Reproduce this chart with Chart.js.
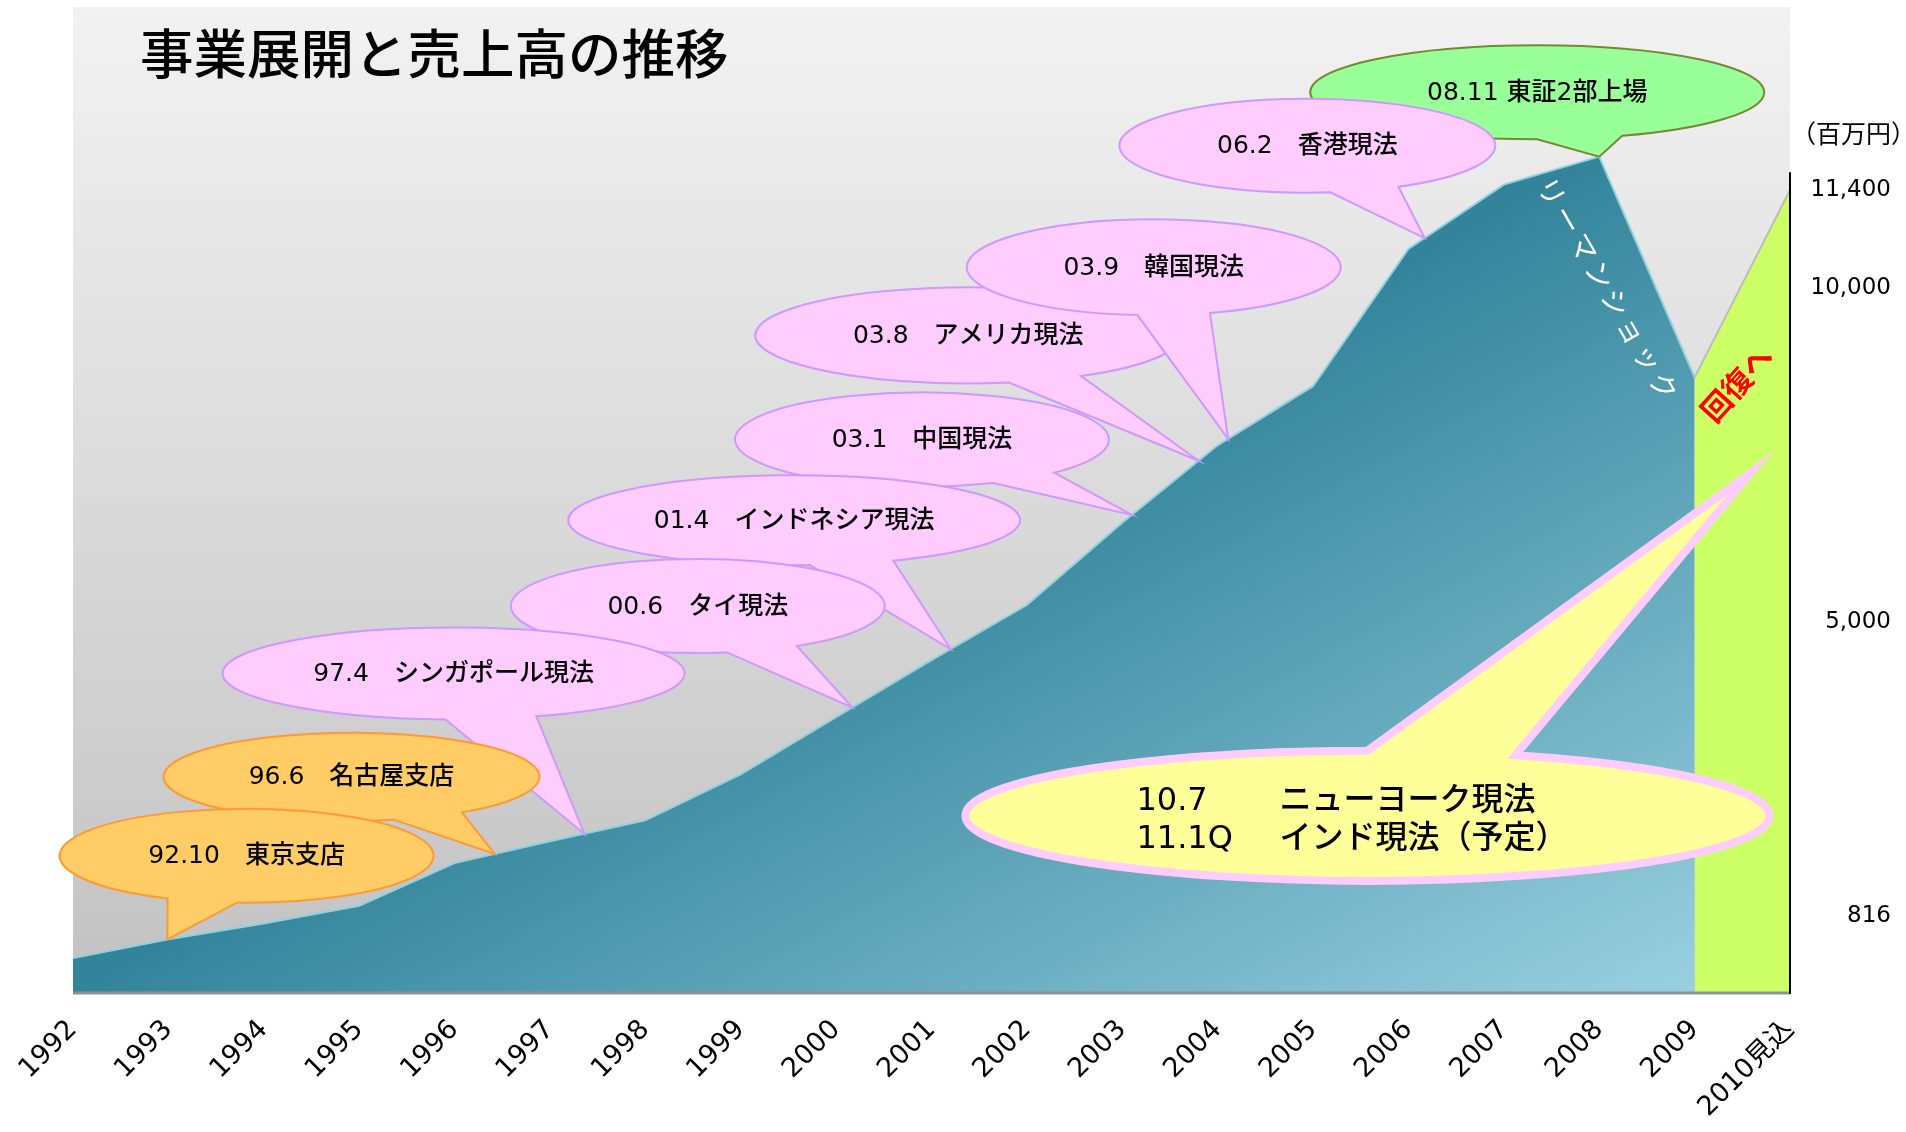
<!DOCTYPE html>
<html lang="ja">
<head>
<meta charset="utf-8">
<title>事業展開と売上高の推移</title>
<script src="https://cdn.jsdelivr.net/npm/chart.js@4.4.1/dist/chart.umd.min.js"></script>
<style>
  html, body { margin: 0; padding: 0; background: #fff; }
  #chart { display: block; }
</style>
</head>
<body>
<canvas id="chart" width="1906" height="1132"></canvas>
<script>
// 売上高（百万円）
const years = ['1992', '1993', '1994', '1995', '1996', '1997', '1998', '1999', '2000',
  '2001', '2002', '2003', '2004', '2005', '2006', '2007', '2008', '2009', '2010見込'];
const sales = [484, 750, 975, 1225, 1832, 2143, 2440, 3094, 3906,
  4718, 5500, 6671, 7770, 8610, 10560, 11476, 11873, 8735, null];
const forecast = [null, null, null, null, null, null, null, null, null,
  null, null, null, null, null, null, null, null, 8735, 11400];
const yTicks = [816, 5000, 10000, 11400];

const titleText = '事業展開と売上高の推移';
const unitText = '（百万円）';

const FONT_JP = '"Noto Sans CJK JP", sans-serif';
const FONT_NUM = '"DejaVu Sans", "Noto Sans CJK JP", sans-serif';

const ORANGE = { fill: '#ffcc66', stroke: '#ff9933', width: 2 };
const PINK = { fill: '#ffccff', stroke: '#cc99ff', width: 2 };
const GREEN = { fill: '#99ff99', stroke: '#778833', width: 2 };
const YELLOW = { fill: '#ffff99', stroke: '#ffccff', width: 8 };

// callouts: centre and tail tip in chart units (year index, value), tail base as ellipse angles
const bubbles = [
  { text: '08.11 東証2部上場', c: [15.35, 12789], rx: 227, ry: 47, base: [90, 68], tip: [16], style: GREEN },
  { text: '06.2　香港現法', c: [12.94, 12029], rx: 188, ry: 47, base: [83, 61], tip: [14.17], style: PINK },
  { text: '03.8　アメリカ現法', c: [9.385, 9333], rx: 213, ry: 48, base: [79, 58], tip: [11.8], style: PINK },
  { text: '03.9　韓国現法', c: [11.33, 10301], rx: 187, ry: 48, base: [95, 72.5], tip: [12.11], style: PINK },
  { text: '03.1　中国現法', c: [8.9, 7853], rx: 187, ry: 47, base: [67.5, 45], tip: [11.1], style: PINK },
  { text: '01.4　インドネシア現法', c: [7.56, 6706], rx: 226, ry: 45, base: [86, 64], tip: [9.2], style: PINK },
  { text: '00.6　タイ現法', c: [6.55, 5486], rx: 187, ry: 47, base: [81, 58], tip: [8.17], style: PINK },
  { text: '97.4　シンガポール現法', c: [3.99, 4528], rx: 231, ry: 46, base: [92, 69], tip: [5.36], style: PINK },
  { text: '96.6　名古屋支店', c: [2.92, 3059], rx: 188, ry: 44, base: [77, 54], tip: [4.42], style: ORANGE },
  { text: '92.10　東京支店', c: [1.82, 1936], rx: 187, ry: 47, base: [115, 93], tip: [0.99], style: ORANGE },
  { lines: [['10.7', 'ニューヨーク現法'], ['11.1Q', 'インド現法（予定）']],
    c: [13.57, 2506], rx: 402, ry: 65, base: [-90, -68.4], tip: [17.59, 7380], style: YELLOW }
];

// point on the sales line for a fractional year index (tail tips sit on the edge)
function edgeValue(idx) {
  const i = Math.floor(idx);
  const t = idx - i;
  const a = sales[i];
  const b = sales[i + 1] == null ? a : sales[i + 1];
  return a + (b - a) * t;
}

function drawBubble(ctx, chart, b) {
  const xs = chart.scales.x, ys = chart.scales.y;
  const cx = xs.getPixelForValue(b.c[0]);
  const cy = ys.getPixelForValue(b.c[1]);
  const tx = xs.getPixelForValue(b.tip[0]);
  const ty = ys.getPixelForValue(b.tip.length > 1 ? b.tip[1] : edgeValue(b.tip[0]));
  const a0 = Math.max(b.base[0], b.base[1]) * Math.PI / 180;
  const a1 = (Math.min(b.base[0], b.base[1]) + 360) * Math.PI / 180;

  ctx.save();
  ctx.beginPath();
  ctx.ellipse(cx, cy, b.rx, b.ry, 0, a0, a1);
  ctx.lineTo(tx, ty);
  ctx.closePath();
  ctx.fillStyle = b.style.fill;
  ctx.fill();
  ctx.lineWidth = b.style.width;
  ctx.strokeStyle = b.style.stroke;
  ctx.lineJoin = 'miter';
  ctx.stroke();

  ctx.fillStyle = '#000';
  ctx.textBaseline = 'middle';
  if (b.text) {
    ctx.font = '500 25px ' + FONT_NUM;
    ctx.textAlign = 'center';
    ctx.fillText(b.text, cx, cy + 1);
  } else {
    ctx.font = '500 32px ' + FONT_NUM;
    ctx.textAlign = 'left';
    b.lines.forEach((ln, i) => {
      const y = cy - 14 + i * 38;
      ctx.fillText(ln[0], cx - 231, y);
      ctx.fillText(ln[1], cx - 88, y);
    });
  }
  ctx.restore();
}

const backdrop = {
  id: 'backdrop',
  beforeDraw(chart) {
    const { ctx, chartArea: a } = chart;
    const g = ctx.createLinearGradient(0, a.top, 0, a.bottom);
    g.addColorStop(0, '#f2f2f2');
    g.addColorStop(1, '#c2c2c2');
    ctx.save();
    ctx.fillStyle = g;
    ctx.fillRect(a.left, a.top, a.right - a.left, a.bottom - a.top);
    ctx.restore();
  }
};

const decorations = {
  id: 'decorations',
  afterDatasetsDraw(chart) {
    const { ctx, chartArea: a } = chart;
    const xs = chart.scales.x, ys = chart.scales.y;
    ctx.save();

    // baseline and right axis
    ctx.strokeStyle = '#8a9396';
    ctx.lineWidth = 3;
    ctx.beginPath();
    ctx.moveTo(a.left, a.bottom + 1);
    ctx.lineTo(a.right, a.bottom + 1);
    ctx.stroke();
    ctx.strokeStyle = '#000';
    ctx.lineWidth = 2;
    ctx.beginPath();
    ctx.moveTo(a.right, ys.getPixelForValue(11650));
    ctx.lineTo(a.right, a.bottom + 2);
    ctx.stroke();

    // title
    ctx.fillStyle = '#000';
    ctx.font = '500 53.5px ' + FONT_JP;
    ctx.textAlign = 'left';
    ctx.textBaseline = 'middle';
    ctx.fillText(titleText, a.left + 67, a.top + 47);

    // unit
    ctx.font = '25px ' + FONT_JP;
    ctx.textAlign = 'right';
    ctx.fillText(unitText, chart.width + 10, ys.getPixelForValue(11400) - 56);

    // リーマンショック
    ctx.save();
    ctx.translate(xs.getPixelForValue(16.1), ys.getPixelForValue(9970));
    ctx.rotate(60 * Math.PI / 180);
    ctx.fillStyle = '#fff';
    ctx.font = '28px ' + FONT_JP;
    ctx.textAlign = 'center';
    ctx.letterSpacing = '4px';
    ctx.fillText('リーマンショック', 0, 0);
    ctx.restore();

    // 回復へ
    ctx.save();
    ctx.translate(xs.getPixelForValue(17.44), ys.getPixelForValue(8650));
    ctx.rotate(-48 * Math.PI / 180);
    ctx.fillStyle = '#ff0000';
    ctx.font = 'bold 30px ' + FONT_JP;
    ctx.textAlign = 'center';
    ctx.fillText('回復へ', 0, 0);
    ctx.restore();

    bubbles.forEach(b => drawBubble(ctx, chart, b));
    ctx.restore();
  }
};

new Chart(document.getElementById('chart'), {
  type: 'line',
  data: {
    labels: years,
    datasets: [
      {
        label: '売上高',
        data: sales,
        fill: 'origin',
        tension: 0,
        pointRadius: 0,
        borderColor: '#8fd2dc',
        borderWidth: 2,
        backgroundColor(context) {
          const a = context.chart.chartArea;
          if (!a) return '#3a8aa0';
          const w = a.right - a.left, h = a.bottom - a.top;
          const g = context.chart.ctx.createLinearGradient(a.left, a.bottom, a.left + 0.218 * w, a.bottom + 0.693 * h);
          g.addColorStop(0, '#33849b');
          g.addColorStop(1, '#99d0e0');
          return g;
        }
      },
      {
        label: '2010見込',
        data: forecast,
        fill: 'origin',
        tension: 0,
        pointRadius: 0,
        borderColor: '#bdbdbd',
        borderWidth: 2,
        backgroundColor: '#ccff66'
      }
    ]
  },
  options: {
    responsive: false,
    devicePixelRatio: 1,
    animation: false,
    layout: { padding: { left: 73, top: 7, right: 15, bottom: 0 } },
    plugins: {
      legend: { display: false },
      tooltip: { enabled: false }
    },
    scales: {
      x: {
        offset: false,
        grid: { display: false, drawTicks: false },
        border: { display: false },
        ticks: {
          autoSkip: false,
          minRotation: 45,
          maxRotation: 45,
          padding: 22,
          color: '#000',
          font: { family: FONT_NUM, size: 27 }
        },
        afterFit(scale) { scale.height = 140; }
      },
      y: {
        position: 'right',
        min: 0,
        max: 14000,
        grid: { display: false, drawTicks: false },
        border: { display: false },
        afterBuildTicks(scale) {
          scale.ticks = yTicks.map(v => ({ value: v }));
        },
        ticks: {
          crossAlign: 'far',
          color: '#000',
          font: { family: FONT_NUM, size: 23, lineHeight: 1.6 },
          // the two lower labels sit a little above their value in the original
          callback: v => v < 6000 ? [v.toLocaleString('en-US'), ''] : v.toLocaleString('en-US')
        },
        afterFit(scale) {
          scale.width = 101;
          scale.paddingTop = 0;
          scale.paddingBottom = 0;
        }
      }
    }
  },
  plugins: [backdrop, decorations]
});
</script>
</body>
</html>
